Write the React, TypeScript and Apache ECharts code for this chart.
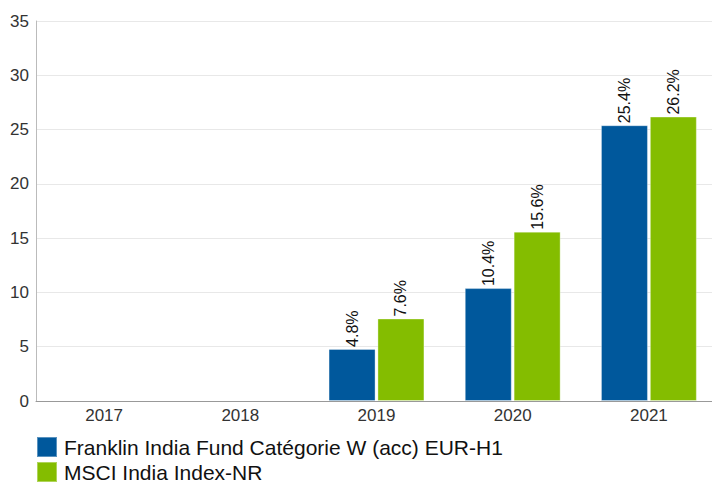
import React, { useEffect, useRef } from "react";
import * as echarts from "echarts";

const categories = ["2017", "2018", "2019", "2020", "2021"];
const fundName = "Franklin India Fund Catégorie W (acc) EUR-H1";
const indexName = "MSCI India Index-NR";
const fundValues: (number | null)[] = [null, null, 4.8, 10.4, 25.4];
const indexValues: (number | null)[] = [null, null, 7.6, 15.6, 26.2];
const yTicks = { min: 0, max: 35, interval: 5 };

export default function App() {
  const ref = useRef<HTMLDivElement>(null);
  useEffect(() => {
    if (!ref.current) return;
    const chart = echarts.init(ref.current, undefined, { renderer: "svg" });
    const font = "Liberation Sans, Arial, sans-serif";
    const label = {
      show: true,
      position: "top" as const,
      rotate: 90,
      align: "left" as const,
      verticalAlign: "middle" as const,
      distance: 2,
      fontFamily: font,
      fontSize: 16,
      color: "#111",
      formatter: (p: any) => p.value.toFixed(1) + "%",
    };
    const legendBase = {
      orient: "horizontal",
      left: 36,
      padding: 0,
      itemWidth: 20,
      itemHeight: 20,
      icon: "rect",
      textStyle: { fontSize: 21, color: "#111", lineHeight: 20, padding: [0, 0, 0, 2] },
    };
    chart.setOption({
      animation: false,
      textStyle: { fontFamily: font },
      grid: { left: 36, right: 3, top: 21, bottom: 81, containLabel: false },
      legend: [
        { ...legendBase, top: 436, data: [fundName] },
        { ...legendBase, top: 461, data: [indexName] },
      ],
      xAxis: {
        type: "category",
        data: categories,
        axisLine: { lineStyle: { color: "#999" } },
        axisTick: { show: false },
        axisLabel: { fontSize: 17, color: "#333", margin: 6 },
      },
      yAxis: {
        type: "value",
        min: yTicks.min,
        max: yTicks.max,
        interval: yTicks.interval,
        axisLine: { show: true, lineStyle: { color: "#bbb" } },
        axisTick: { show: false },
        axisLabel: { fontSize: 17, color: "#333", margin: 7 },
        splitLine: { lineStyle: { color: "#e8e8e8" } },
      },
      series: [
        {
          name: fundName,
          type: "bar",
          data: fundValues,
          barWidth: 47,
          barGap: "4%",
          itemStyle: { color: "#00589C", borderColor: "rgba(255,255,255,0.35)", borderWidth: 1 },
          label,
        },
        {
          name: indexName,
          type: "bar",
          data: indexValues,
          barWidth: 47,
          barGap: "4%",
          itemStyle: { color: "#84BD00", borderColor: "rgba(255,255,255,0.35)", borderWidth: 1 },
          label,
        },
      ],
    });
    return () => chart.dispose();
  }, []);
  return (
    <div
      ref={ref}
      style={{ position: "absolute", left: 0, top: 0, width: 720, height: 482 }}
    />
  );
}
